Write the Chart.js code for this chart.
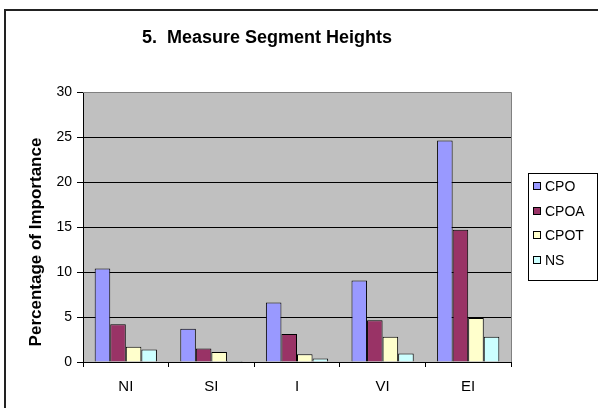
<!DOCTYPE html>
<html>
<head>
<meta charset="utf-8">
<script src="https://cdn.jsdelivr.net/npm/chart.js@4.4.1/dist/chart.umd.min.js"></script>
<style>
  html, body { margin: 0; padding: 0; background: #fff; overflow: hidden; }
  #wrap { width: 598px; height: 408px; position: relative; }
</style>
</head>
<body>
<div id="wrap"><canvas id="chart"></canvas></div>
<script>
// Measure Segment Heights - grouped bars, Excel 2003 look

const chartTitle = "5.  Measure Segment Heights";
const yAxisTitle = "Percentage of Importance";
const categories = ["NI", "SI", "I", "VI", "EI"];

const cpo  = [10.4, 3.7, 6.6, 9.05, 24.6];
const cpoa = [4.2, 1.5, 3.1, 4.65, 14.7];
const cpot = [1.7, 1.1, 0.85, 2.8, 4.9];
const ns   = [1.4, 0.1, 0.4, 0.95, 2.8];

const yTicks = [0, 5, 10, 15, 20, 25, 30];

const FONT = "'Liberation Sans', Arial, sans-serif";

// Frame, grey plot area, titles and boxed legend (Excel style)
const excelFrame = {
  id: "excelFrame",
  beforeDraw(chart) {
    const ctx = chart.ctx;
    const a = chart.chartArea;
    ctx.save();
    ctx.fillStyle = "#c0c0c0";
    ctx.fillRect(a.left, a.top, a.right - a.left, a.bottom - a.top);
    ctx.restore();
  },
  afterDraw(chart) {
    const ctx = chart.ctx;
    const a = chart.chartArea;
    ctx.save();
    // plot area border
    ctx.strokeStyle = "#808080";
    ctx.lineWidth = 1;
    ctx.beginPath();
    ctx.moveTo(a.left, a.top + 0.5);
    ctx.lineTo(a.right + 0.5, a.top + 0.5);
    ctx.lineTo(a.right + 0.5, a.bottom);
    ctx.stroke();

    // outer chart frame (right / bottom edges are off the picture)
    ctx.strokeStyle = "#222";
    ctx.lineWidth = 2;
    ctx.beginPath();
    ctx.moveTo(5, chart.height + 2);
    ctx.lineTo(5, 10);
    ctx.lineTo(chart.width + 2, 10);
    ctx.stroke();

    // chart title
    ctx.fillStyle = "#000";
    ctx.font = "bold 18px " + FONT;
    ctx.textAlign = "center";
    ctx.textBaseline = "middle";
    ctx.fillText(chartTitle, 267, 38);

    // value axis title
    ctx.save();
    ctx.translate(36, 242);
    ctx.rotate(-Math.PI / 2);
    ctx.font = "bold 17px " + FONT;
    ctx.fillText(yAxisTitle, 0, 0);
    ctx.restore();

    // legend, one row per dataset
    const sets = chart.data.datasets;
    const lx = 528, ly = 173, rowH = 24.7;
    ctx.strokeStyle = "#000";
    ctx.lineWidth = 1;
    ctx.strokeRect(lx + 0.5, ly + 0.5, 69, 107);
    ctx.font = "14px " + FONT;
    ctx.textAlign = "left";
    sets.forEach((ds, i) => {
      const cy = ly + 13 + i * rowH;
      ctx.fillStyle = ds.backgroundColor;
      ctx.fillRect(lx + 5.5, Math.round(cy) - 3.5, 7, 7);
      ctx.strokeRect(lx + 5.5, Math.round(cy) - 3.5, 7, 7);
      ctx.fillStyle = "#000";
      ctx.fillText(ds.label, lx + 17, cy + 1);
    });
    ctx.restore();
  }
};

const ctx = document.getElementById("chart").getContext("2d");

new Chart(ctx, {
  type: "bar",
  data: {
    labels: categories,
    datasets: [
      { label: "CPO",  data: cpo,  backgroundColor: "#9999ff" },
      { label: "CPOA", data: cpoa, backgroundColor: "#993366" },
      { label: "CPOT", data: cpot, backgroundColor: "#ffffcc" },
      { label: "NS",   data: ns,   backgroundColor: "#ccffff" }
    ].map(d => Object.assign(d, {
      borderColor: "#000",
      borderWidth: 1,
      barPercentage: 1,
      categoryPercentage: 0.727
    }))
  },
  options: {
    responsive: true,
    maintainAspectRatio: false,
    animation: false,
    layout: { padding: { left: 5, top: 92, right: 87, bottom: 0 } },
    plugins: {
      title: { display: false },
      tooltip: { enabled: false },
      legend: { display: false }
    },
    scales: {
      x: {
        afterFit: s => { s.height = 46; },
        grid: {
          offset: true,
          drawOnChartArea: false,
          color: "#000",
          tickLength: 5
        },
        border: { color: "#000" },
        ticks: { color: "#000", font: { family: FONT, size: 15 }, padding: 11 }
      },
      y: {
        min: 0,
        max: 30,
        afterFit: s => { s.width = 78; },
        afterBuildTicks: s => { s.ticks = yTicks.map(v => ({ value: v })); },
        grid: { color: "#000", tickLength: 6 },
        border: { color: "#000" },
        ticks: { color: "#000", font: { family: FONT, size: 14 }, padding: 5 }
      }
    }
  },
  plugins: [excelFrame]
});
</script>
</body>
</html>
